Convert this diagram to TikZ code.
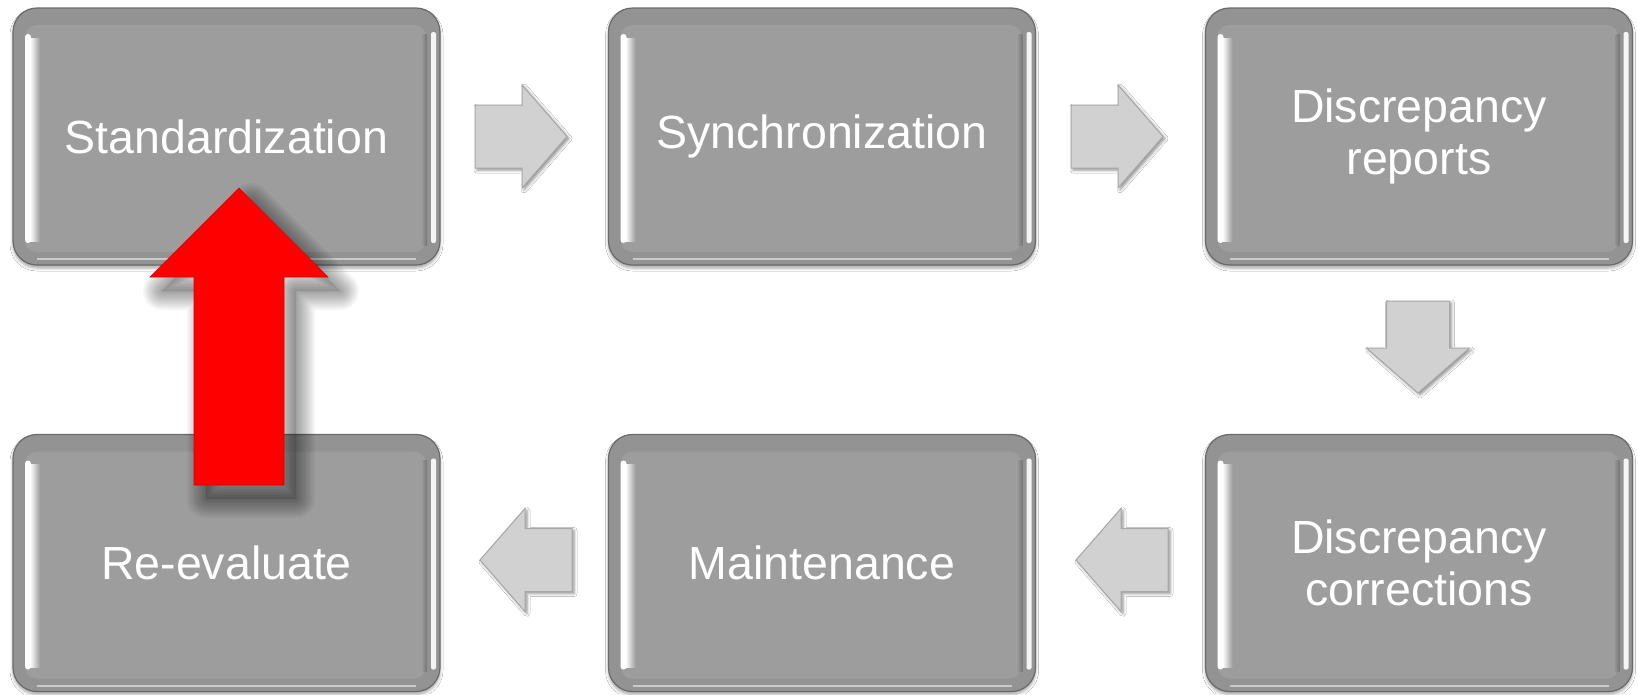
\documentclass[tikz,border=0pt]{standalone}
\usepackage{fontspec}
\setmainfont{Liberation Sans}
\usetikzlibrary{calc,shadows.blur}

\definecolor{rim}{HTML}{939393}
\definecolor{rimline}{HTML}{6A6A6A}
\definecolor{panel}{HTML}{9D9D9D}
\definecolor{blockfill}{HTML}{D1D1D1}
\definecolor{blockline}{HTML}{A8A8A8}
\definecolor{uparrow}{HTML}{FF0000}

\tikzset{
  stage/.style={
    draw=rimline, line width=1.2pt, fill=rim, rounded corners=24pt,
    minimum width=427pt, minimum height=257pt, inner sep=0pt,
    text=white, align=center, font=\fontsize{46.5}{52}\selectfont,
    blur shadow={shadow xshift=0pt, shadow yshift=-3pt,
                 shadow blur radius=3pt, shadow opacity=35},
    path picture={
      \coordinate (nw) at (path picture bounding box.north west);
      \coordinate (se) at (path picture bounding box.south east);
      % bevel: inner face
      \fill[panel, rounded corners=12pt]
        ($(nw)+(12,17)$) rectangle ($(se)+(-14,-13)$);
      % left highlight with soft fade into the face
      \shade[sharp corners, left color=white, right color=panel]
        ($(nw)+(17,30)$) rectangle ($(nw|-se)+(27,-24)$);
      \fill[white, rounded corners=3pt]
        ($(nw)+(12,26)$) rectangle ($(nw|-se)+(18,-22)$);
      % right edge: darker fade then light strip
      \shade[sharp corners, left color=panel, right color=rim!80!black]
        ($(se|-nw)+(-19,26)$) rectangle ($(se)+(-13,-20)$);
      \fill[white, rounded corners=2pt, opacity=0.9]
        ($(se|-nw)+(-9,24)$) rectangle ($(se)+(-4,-22)$);
      % bottom light line
      \draw[white, opacity=0.5, line width=2pt, sharp corners]
        ($(nw|-se)+(24,-6)$) -- ($(se)+(-24,-6)$);
    }},
  blockstyle/.style={
    fill=blockfill, draw=blockline, line width=1pt, line join=miter,
    blur shadow={shadow xshift=2pt, shadow yshift=-2pt,
                 shadow blur radius=3pt, shadow opacity=45}},
  blockarrow/.pic={
    \path[blockstyle] (0,-31.5) -- (47,-31.5) -- (47,-51.5) -- (92,0)
      -- (47,51.5) -- (47,31.5) -- (0,31.5) -- cycle;},
  % large upward arrow, origin at the middle of its base
  uparrowshape/.pic={
    \path[pic actions] (-45,0) -- (-45,-208) -- (-89,-208) -- (0,-297)
      -- (89,-208) -- (45,-208) -- (45,0) -- cycle;},
}

\begin{document}
\begin{tikzpicture}[x=1pt, y=-1pt]
  \useasboundingbox[fill=white] (0,0) rectangle (1638,694);

  % process stages
  \node[stage] (std)  at (226.5,136.5) {Standardization};
  \node[stage] (sync) at (822,136.5)   {Synchronization};
  \node[stage] (rep)  at (1419,136.5)  {Discrepancy\\reports};
  \node[stage] (cor)  at (1419,563)    {Discrepancy\\corrections};
  \node[stage] (mnt)  at (822,563)     {Maintenance};
  \node[stage] (rev)  at (226.5,563)   {Re-evaluate};

  % block arrows between stages
  \pic at (475,136.5) {blockarrow};
  \pic at (1071,136.5) {blockarrow};
  \pic[rotate=-90] at (1418,301) {blockarrow};
  \pic[rotate=180] at (1168,560) {blockarrow};
  \pic[rotate=180] at (572,560) {blockarrow};

  % soft shadow of the loop-back arrow
  \pic[fill=black, fill opacity=0.10] at (251,499) {uparrowshape};
  \foreach \w in {2,5,...,38}
    \pic[draw=black, draw opacity=0.03, line width=\w pt, line join=round]
      at (251,499) {uparrowshape};
  % loop back to the first stage
  \pic[fill=uparrow, draw=uparrow!85!black, line width=0.6pt]
    at (239,485) {uparrowshape};
\end{tikzpicture}
\end{document}
